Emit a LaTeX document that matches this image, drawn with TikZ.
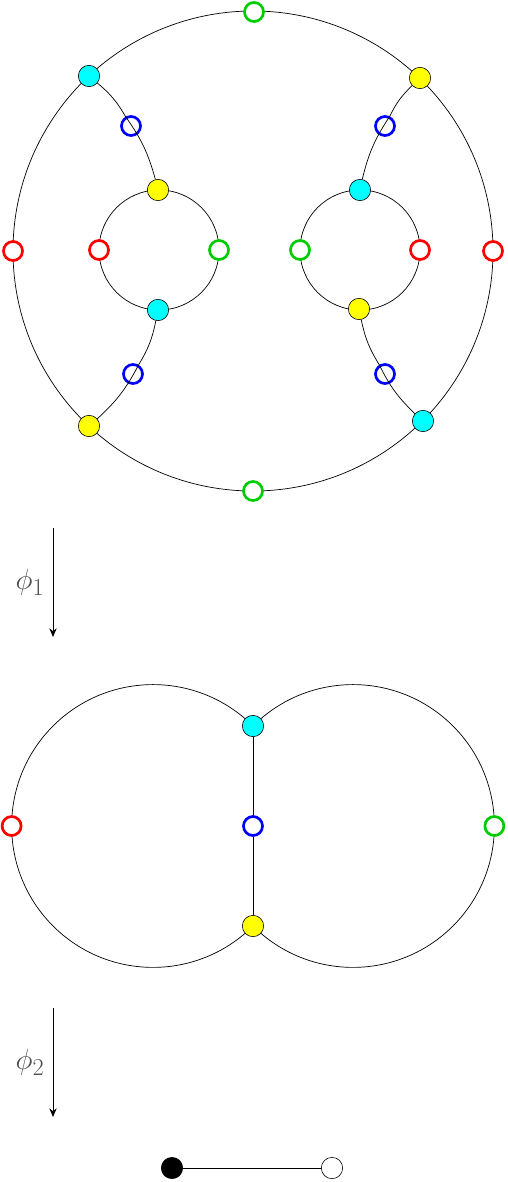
\documentclass[tikz,border=0pt]{standalone}
\usepackage{amsmath}
\usepackage{xcolor}
\usepackage{tikz}
\usetikzlibrary{arrows.meta, backgrounds}
\definecolor{vgreen}{RGB}{0,204,0}
\definecolor{vcyan}{RGB}{0,255,255}
\definecolor{vyellow}{RGB}{255,255,0}
\tikzset{
  hollow/.style={draw, circle, line width=2.3pt, fill=white, minimum size=5.7mm, inner sep=0pt},
  redpt/.style={hollow, draw=red},
  greenpt/.style={hollow, draw=vgreen},
  bluept/.style={hollow, draw=blue},
  filledpt/.style={draw, circle, line width=0.5pt, minimum size=6.4mm, inner sep=0pt},
  cyanpt/.style={filledpt, fill=vcyan},
  yellowpt/.style={filledpt, fill=vyellow},
  blackpt/.style={filledpt, fill=black},
  whitept/.style={filledpt, fill=white},
  link/.style={line width=0.6pt},
  maparrow/.style={-{Stealth[length=2.6mm, width=2.2mm]}, line width=0.6pt},
  maplabel/.style={font=\Huge, text=black!70, inner sep=0pt}
}

\begin{document}
\begin{tikzpicture}[x=0.03cm, y=0.03cm]
    \useasboundingbox (0,0) rectangle (508,-1182);
    % first graph: outer circle with two holes
    \node[greenpt] (gT) at (254,-12) {};
    \node[greenpt] (gB) at (253,-491) {};
    \node[redpt] (rL) at (13,-251) {};
    \node[redpt] (rR) at (493,-251) {};
    \node[cyanpt] (cNW) at (89,-76) {};
    \node[yellowpt] (yNE) at (420,-78) {};
    \node[yellowpt] (ySW) at (89,-426) {};
    \node[cyanpt] (cSE) at (423,-421) {};
    \node[redpt] (rLi) at (99,-250) {};
    \node[greenpt] (gLi) at (219,-250) {};
    \node[yellowpt] (yLi) at (158,-190) {};
    \node[cyanpt] (cLi) at (158,-310) {};
    \node[greenpt] (gRi) at (300,-250) {};
    \node[redpt] (rRi) at (420,-250) {};
    \node[cyanpt] (cRi) at (360,-190) {};
    \node[yellowpt] (yRi) at (359,-309) {};
    \node[bluept] (bNW) at (131,-126) {};
    \node[bluept] (bNE) at (385,-126) {};
    \node[bluept] (bSW) at (133,-374) {};
    \node[bluept] (bSE) at (385,-374) {};
    \begin{scope}[on background layer]
        \draw[link] (253,-251) circle[radius=240];
        \draw[link] (159,-250) circle[radius=60];
        \draw[link] (360,-250) circle[radius=60];
    \end{scope}
    \draw[link] (cNW) to[bend left=10] (bNW) to[bend left=10] (yLi);
    \draw[link] (yNE) to[bend right=10] (bNE) to[bend right=10] (cRi);
    \draw[link] (cLi) to[bend left=10] (bSW) to[bend left=10] (ySW);
    \draw[link] (yRi) to[bend right=10] (bSE) to[bend right=10] (cSE);
    % first map
    \coordinate (m1s) at (53,-528);
    \coordinate (m1e) at (53,-637);
    \draw[maparrow] (m1s) -- (m1e) node[midway, left=2.5mm, maplabel] {$\phi_1$};
    % second graph: theta graph
    \node[cyanpt] (cM) at (253,-726) {};
    \node[bluept] (bM) at (253,-826) {};
    \node[yellowpt] (yM) at (253,-926) {};
    \node[redpt] (rM) at (11.6,-826) {};
    \node[greenpt] (gM) at (494.4,-826) {};
    \begin{scope}[on background layer]
        \draw[link] (cM.center) arc[start angle=45, end angle=315, radius=141.4];
        \draw[link] (cM.center) arc[start angle=135, end angle=-135, radius=141.4];
    \end{scope}
    \draw[link] (cM) -- (bM) -- (yM);
    % second map
    \coordinate (m2s) at (53,-1008);
    \coordinate (m2e) at (53,-1117);
    \draw[maparrow] (m2s) -- (m2e) node[midway, left=2.5mm, maplabel] {$\phi_2$};
    % edge
    \node[blackpt] (bk) at (172,-1168) {};
    \node[whitept] (wt) at (332,-1168) {};
    \draw[link] (bk) -- (wt);
\end{tikzpicture}
\end{document}
